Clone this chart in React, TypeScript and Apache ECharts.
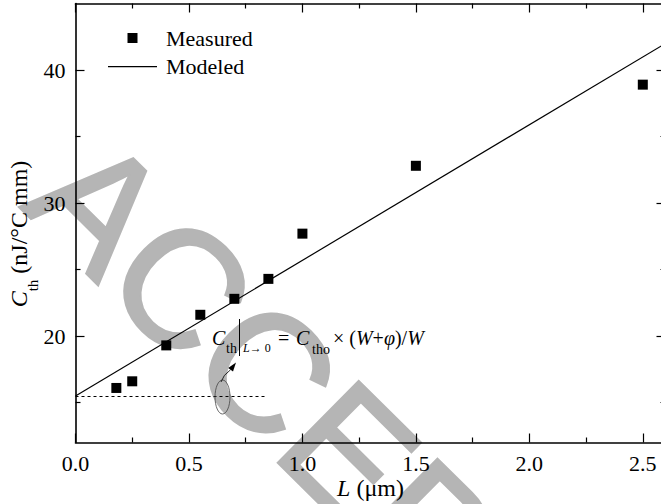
import React, { useEffect, useRef } from "react";
import * as echarts from "echarts";

// ---- data ----
const lengthsUm = [0.18, 0.25, 0.4, 0.55, 0.7, 0.85, 1.0, 1.5, 2.5];
const measuredCth = [16.1, 16.6, 19.3, 21.6, 22.8, 24.3, 27.7, 32.8, 38.9];
const modelL = [0, 2.6];
const modelCth = [15.5, 42.0];
const limitL = [0, 0.84];
const limitCth = 15.5;
const xRange = [0, 2.6];
const yRange = [12, 45];
const xMajorTicks = [0, 0.5, 1.0, 1.5, 2.0, 2.5];
const xMinorTicks = [0.25, 0.75, 1.25, 1.75, 2.25];
const yMajorTicks = [20, 30, 40];
const yMinorTicks = [15, 25, 35];

const SERIF = "Liberation Serif";

function makeXAxis(position: string, ticks: number[], len: number, showLine: boolean, showLabel: boolean, extra: any = {}) {
  return {
    type: "value",
    position,
    min: xRange[0],
    max: xRange[1],
    axisLine: { show: showLine, onZero: false, lineStyle: { color: "#000", width: 1.6 } },
    axisTick: { show: true, inside: true, length: len, customValues: ticks, lineStyle: { color: "#000", width: 1.2 } },
    axisLabel: {
      show: showLabel,
      customValues: ticks,
      margin: 10,
      fontSize: 22,
      fontFamily: SERIF,
      color: "#000",
      formatter: (v: number) => v.toFixed(1),
    },
    splitLine: { show: false },
    ...extra,
  };
}

function makeYAxis(position: string, ticks: number[], len: number, showLine: boolean, showLabel: boolean) {
  return {
    type: "value",
    position,
    min: yRange[0],
    max: yRange[1],
    axisLine: { show: showLine, onZero: false, lineStyle: { color: "#000", width: 1.6 } },
    axisTick: { show: true, inside: true, length: len, customValues: ticks, lineStyle: { color: "#000", width: 1.2 } },
    axisLabel: {
      show: showLabel,
      customValues: ticks,
      margin: 10,
      fontSize: 22,
      fontFamily: SERIF,
      color: "#000",
      formatter: (v: number) => String(v),
    },
    splitLine: { show: false },
  };
}

export default function App() {
  const ref = useRef<HTMLDivElement>(null);

  useEffect(() => {
    if (!ref.current) return;
    const chart = echarts.init(ref.current, undefined, { renderer: "svg" });

    const txt = (text: string, x: number, y: number, size: number, italic = false, extra: any = {}) => ({
      type: "text",
      x,
      y,
      z: 10,
      style: {
        text,
        fontSize: size,
        fontFamily: SERIF,
        fontStyle: italic ? "italic" : "normal",
        fill: "#000",
        align: "left",
        verticalAlign: "middle",
        ...extra,
      },
    });

    const option: any = {
      animation: false,
      backgroundColor: "#fff",
      grid: { left: 75.5, top: 3.5, width: 590, height: 439, containLabel: false, outerBoundsMode: "none" },
      legend: {
        orient: "vertical",
        left: 108,
        top: 27,
        padding: 0,
        itemWidth: 49,
        itemHeight: 10,
        itemGap: 6.7,
        selectedMode: false,
        symbolKeepAspect: true,
        textStyle: { fontSize: 22, fontFamily: SERIF, color: "#000", padding: [0, 0, 0, 4] },
        data: [
          { name: "Measured", icon: "path://M0,0h10v10h-10z", itemStyle: { color: "#000", opacity: 1 } },
          { name: "Modeled", icon: "path://M0,0h49v1.2h-49z", itemStyle: { color: "#000", opacity: 1 } },
        ],
      },
      xAxis: [
        makeXAxis("bottom", xMajorTicks, 9, true, true, {
          name: "{i|L} (μm)",
          nameLocation: "middle",
          nameGap: 33,
          nameMoveOverlap: false,
          nameTextStyle: {
            fontSize: 24,
            fontFamily: SERIF,
            color: "#000",
            rich: { i: { fontSize: 24, fontFamily: SERIF, fontStyle: "italic", color: "#000" } },
          },
        }),
        makeXAxis("bottom", xMinorTicks, 5, false, false),
        makeXAxis("top", xMajorTicks, 9, true, false),
        makeXAxis("top", xMinorTicks, 5, false, false),
      ],
      yAxis: [
        makeYAxis("left", yMajorTicks, 9, true, true),
        makeYAxis("left", yMinorTicks, 5, false, false),
        makeYAxis("right", yMajorTicks, 9, true, false),
        makeYAxis("right", yMinorTicks, 5, false, false),
      ],
      series: [
        {
          name: "Measured",
          type: "scatter",
          xAxisIndex: 0,
          yAxisIndex: 0,
          symbol: "rect",
          symbolSize: 10,
          itemStyle: { color: "#000", opacity: 1 },
          data: lengthsUm.map((l, i) => [l, measuredCth[i]]),
          z: 4,
        },
        {
          name: "Modeled",
          type: "line",
          xAxisIndex: 0,
          yAxisIndex: 0,
          symbol: "none",
          showSymbol: false,
          lineStyle: { color: "#000", width: 1.2 },
          itemStyle: { color: "#000" },
          data: modelL.map((l, i) => [l, modelCth[i]]),
          z: 3,
          markLine: {
            silent: true,
            symbol: ["none", "none"],
            label: { show: false },
            lineStyle: { color: "#000", width: 1, type: [3, 3] },
            emphasis: { disabled: true },
            data: [[{ coord: [limitL[0], limitCth] }, { coord: [limitL[1], limitCth] }]],
          },
        },
      ],
      graphic: [
        // watermark
        {
          type: "text",
          x: 60,
          y: 166,
          rotation: -0.78,
          z: -10,
          silent: true,
          style: {
            text: "ACCEPTED",
            fontSize: 166,
            fontFamily: "Liberation Sans",
            fill: "#b5b5b5",
            stroke: "#b5b5b5",
            lineWidth: 3,
            align: "left",
            verticalAlign: "middle",
          },
        },
        // y axis title
        {
          type: "text",
          x: 19,
          y: 234,
          rotation: Math.PI / 2,
          z: 10,
          style: {
            text: "{c|C}{s|th}{n| (nJ/°C mm)}",
            align: "center",
            verticalAlign: "middle",
            rich: {
              c: { fontSize: 24, fontFamily: SERIF, fontStyle: "italic", lineHeight: 42, fill: "#000" },
              s: { fontSize: 15, fontFamily: SERIF, lineHeight: 16, verticalAlign: "bottom", fill: "#000" },
              n: { fontSize: 24, fontFamily: SERIF, lineHeight: 42, fill: "#000" },
            },
          },
        },
        // annotation formula
        txt("C", 212, 338, 20, true),
        txt("th", 226, 348, 14),
        {
          type: "line",
          z: 10,
          shape: { x1: 239.5, y1: 319, x2: 239.5, y2: 356 },
          style: { stroke: "#000", lineWidth: 1 },
        },
        {
          type: "text",
          x: 243,
          y: 348,
          z: 10,
          style: {
            text: "{i|L}{n|→ 0}",
            align: "left",
            verticalAlign: "middle",
            rich: {
              i: { fontSize: 12, fontFamily: SERIF, fontStyle: "italic", fill: "#000" },
              n: { fontSize: 12, fontFamily: SERIF, fill: "#000" },
            },
          },
        },
        txt("=", 278, 338, 20),
        txt("C", 296, 338, 20, true),
        txt("tho", 312, 349, 14),
        {
          type: "text",
          x: 333,
          y: 338,
          z: 10,
          style: {
            text: "{n|× (}{i|W}{n|+}{i|φ}{n|)/}{i|W}",
            align: "left",
            verticalAlign: "middle",
            rich: {
              i: { fontSize: 20, fontFamily: SERIF, fontStyle: "italic", fill: "#000" },
              n: { fontSize: 20, fontFamily: SERIF, fill: "#000" },
            },
          },
        },
        // ellipse + arrow
        {
          type: "ellipse",
          z: 10,
          shape: { cx: 222.5, cy: 397, rx: 7.5, ry: 17 },
          style: { fill: "none", stroke: "#444", lineWidth: 0.8 },
        },
        {
          type: "bezierCurve",
          z: 10,
          shape: { x1: 221, y1: 382, x2: 230.6, y2: 369.7, cpx1: 223, cpy1: 375 },
          style: { fill: "none", stroke: "#000", lineWidth: 0.8 },
        },
        {
          type: "polygon",
          z: 10,
          shape: { points: [[236, 362.5], [233, 371.5], [228.2, 367.9]] },
          style: { fill: "#000" },
        },
      ],
    };

    chart.setOption(option);
    return () => chart.dispose();
  }, []);

  return (
    <div
      ref={ref}
      style={{ position: "fixed", left: 0, top: 0, width: 661, height: 504, background: "#fff" }}
    />
  );
}
